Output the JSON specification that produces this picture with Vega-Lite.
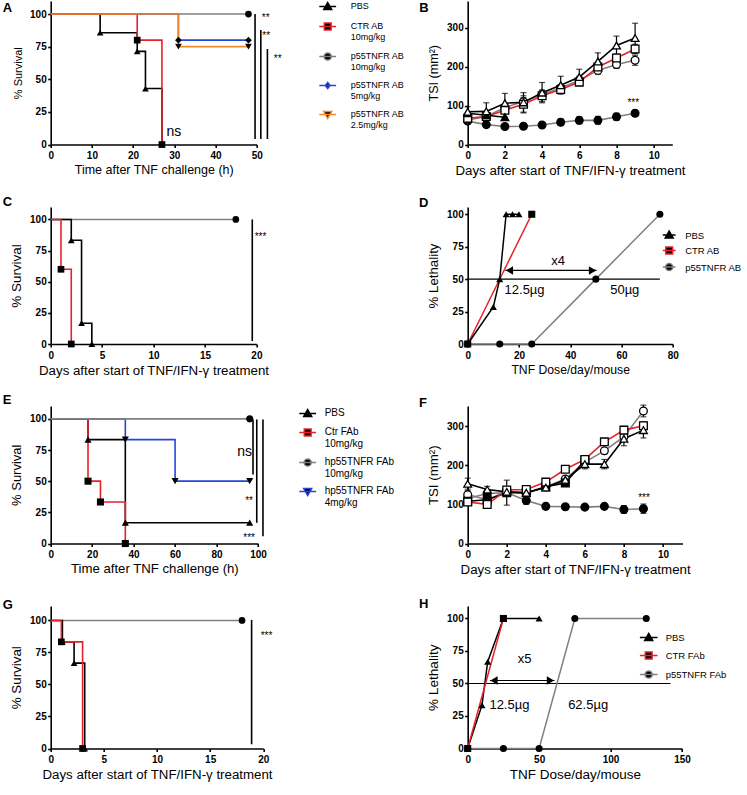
{
"$schema": "https://vega.github.io/schema/vega-lite/v6.json",
"padding": {"left": 1.7, "top": 1, "right": 2, "bottom": 2},
"config": {
 "view": {"stroke": null},
 "font": "Liberation Sans",
 "axis": {"grid": false, "domainColor": "#000", "domainWidth": 1.6, "tickColor": "#000", "tickWidth": 1.6, "tickSize": 3, "labelFont": "Liberation Sans", "labelFontSize": 10, "labelFontWeight": "bold", "labelColor": "#000", "labelFlush": false, "labelOverlap": false, "titleFont": "Liberation Sans", "titleFontSize": 12, "titleFontWeight": "normal", "titleColor": "#000"},
 "axisX": {"labelPadding": 3, "titlePadding": 3},
 "axisY": {"labelPadding": 1.5, "titlePadding": 6.5},
 "text": {"font": "Liberation Sans", "color": "#000"},
 "style": {"guide-label": {"lineHeight": 11.5}}
},
"columns": 2,
"spacing": {"row": 62, "column": 204},
"bounds": "flush",
"resolve": {"scale": {"color": "independent", "shape": "independent", "fill": "independent"}, "legend": {"color": "independent", "shape": "independent", "fill": "independent"}},
"datasets": {
 "kmA": [
  {"x":0,"y":100,"g":"p55TNFR AB 10mg/kg"},{"x":48,"y":100,"g":"p55TNFR AB 10mg/kg"},
  {"x":0,"y":100,"g":"p55TNFR AB 5mg/kg"},{"x":31,"y":80,"g":"p55TNFR AB 5mg/kg"},{"x":48,"y":80,"g":"p55TNFR AB 5mg/kg"},
  {"x":0,"y":100,"g":"PBS"},{"x":12,"y":85.7,"g":"PBS"},{"x":21,"y":71.4,"g":"PBS"},{"x":23,"y":42.9,"g":"PBS"},{"x":27,"y":0,"g":"PBS"},
  {"x":0,"y":100,"g":"CTR AB 10mg/kg"},{"x":21,"y":80,"g":"CTR AB 10mg/kg"},{"x":27,"y":0,"g":"CTR AB 10mg/kg"},
  {"x":0,"y":100,"g":"p55TNFR AB 2.5mg/kg"},{"x":31,"y":75,"g":"p55TNFR AB 2.5mg/kg"},{"x":48,"y":75,"g":"p55TNFR AB 2.5mg/kg"}
 ],
 "tsiB": [
  {"x":0,"y":60,"se":5,"g":"p55TNFR AB (TNF)"},{"x":1,"y":51,"se":4,"g":"p55TNFR AB (TNF)"},{"x":2,"y":46,"se":3,"g":"p55TNFR AB (TNF)"},{"x":3,"y":47,"se":3,"g":"p55TNFR AB (TNF)"},{"x":4,"y":50,"se":3,"g":"p55TNFR AB (TNF)"},{"x":5,"y":57,"se":8,"g":"p55TNFR AB (TNF)"},{"x":6,"y":62,"se":9,"g":"p55TNFR AB (TNF)"},{"x":7,"y":62,"se":10,"g":"p55TNFR AB (TNF)"},{"x":8,"y":71,"se":9,"g":"p55TNFR AB (TNF)"},{"x":9,"y":80,"se":8,"g":"p55TNFR AB (TNF)"},
  {"x":0,"y":63,"se":8,"g":"p55TNFR AB"},{"x":1,"y":72,"se":8,"g":"p55TNFR AB"},{"x":2,"y":95,"se":10,"g":"p55TNFR AB"},{"x":3,"y":110,"se":10,"g":"p55TNFR AB"},{"x":4,"y":128,"se":10,"g":"p55TNFR AB"},{"x":5,"y":145,"se":8,"g":"p55TNFR AB"},{"x":6,"y":165,"se":10,"g":"p55TNFR AB"},{"x":7,"y":190,"se":10,"g":"p55TNFR AB"},{"x":8,"y":205,"se":10,"g":"p55TNFR AB"},{"x":9,"y":216,"se":13,"g":"p55TNFR AB"},
  {"x":0,"y":67,"se":5,"g":"CTR AB"},{"x":1,"y":72,"se":6,"g":"CTR AB"},{"x":2,"y":88,"se":8,"g":"CTR AB"},{"x":3,"y":103,"se":22,"g":"CTR AB"},{"x":4,"y":125,"se":15,"g":"CTR AB"},{"x":5,"y":141,"se":8,"g":"CTR AB"},{"x":6,"y":160,"se":8,"g":"CTR AB"},{"x":7,"y":199,"se":12,"g":"CTR AB"},{"x":8,"y":222,"se":10,"g":"CTR AB"},{"x":9,"y":245,"se":12,"g":"CTR AB"},
  {"x":0,"y":80,"se":0,"g":"PBS (TNF)"},{"x":1,"y":75,"se":0,"g":"PBS (TNF)"},{"x":2,"y":70,"se":0,"g":"PBS (TNF)"},
  {"x":0,"y":84,"se":13,"g":"PBS"},{"x":1,"y":85,"se":22,"g":"PBS"},{"x":2,"y":106,"se":25,"g":"PBS"},{"x":3,"y":108,"se":25,"g":"PBS"},{"x":4,"y":133,"se":26,"g":"PBS"},{"x":5,"y":152,"se":23,"g":"PBS"},{"x":6,"y":173,"se":20,"g":"PBS"},{"x":7,"y":213,"se":22,"g":"PBS"},{"x":8,"y":254,"se":24,"g":"PBS"},{"x":9,"y":273,"se":38,"g":"PBS"}
 ],
 "kmC": [
  {"x":0,"y":100,"g":"p55TNFR AB"},{"x":18,"y":100,"g":"p55TNFR AB"},
  {"x":0,"y":100,"g":"PBS"},{"x":2,"y":83.3,"g":"PBS"},{"x":3,"y":16.7,"g":"PBS"},{"x":4,"y":0,"g":"PBS"},
  {"x":0,"y":100,"g":"CTR AB"},{"x":1,"y":60,"g":"CTR AB"},{"x":2,"y":0,"g":"CTR AB"}
 ],
 "doseD": [
  {"x":0,"y":0,"g":"p55TNFR AB"},{"x":12.5,"y":0,"g":"p55TNFR AB"},{"x":25,"y":0,"g":"p55TNFR AB"},{"x":50,"y":50,"g":"p55TNFR AB"},{"x":75,"y":100,"g":"p55TNFR AB"},
  {"x":0,"y":0,"g":"CTR AB"},{"x":25,"y":100,"g":"CTR AB"},
  {"x":0,"y":0,"g":"PBS"},{"x":10,"y":28.6,"g":"PBS"},{"x":12.5,"y":50,"g":"PBS"},{"x":15,"y":100,"g":"PBS"},{"x":17.5,"y":100,"g":"PBS"},{"x":20,"y":100,"g":"PBS"}
 ],
 "kmE": [
  {"x":0,"y":100,"g":"PBS"},{"x":18,"y":83.3,"g":"PBS"},{"x":36,"y":16.7,"g":"PBS"},{"x":96,"y":16.7,"g":"PBS"},
  {"x":0,"y":100,"g":"Ctr FAb 10mg/kg"},{"x":18,"y":50,"g":"Ctr FAb 10mg/kg"},{"x":24,"y":33.3,"g":"Ctr FAb 10mg/kg"},{"x":36,"y":0,"g":"Ctr FAb 10mg/kg"},
  {"x":0,"y":100,"g":"hp55TNFR FAb 4mg/kg"},{"x":36,"y":83.3,"g":"hp55TNFR FAb 4mg/kg"},{"x":60,"y":50,"g":"hp55TNFR FAb 4mg/kg"},{"x":96,"y":50,"g":"hp55TNFR FAb 4mg/kg"},
  {"x":0,"y":100,"g":"hp55TNFR FAb 10mg/kg"},{"x":96,"y":100,"g":"hp55TNFR FAb 10mg/kg"}
 ],
 "tsiF": [
  {"x":0,"y":115,"se":8,"g":"hp55TNFR FAb (TNF)"},{"x":1,"y":128,"se":10,"g":"hp55TNFR FAb (TNF)"},{"x":2,"y":130,"se":8,"g":"hp55TNFR FAb (TNF)"},{"x":3,"y":110,"se":10,"g":"hp55TNFR FAb (TNF)"},{"x":4,"y":95,"se":8,"g":"hp55TNFR FAb (TNF)"},{"x":5,"y":94,"se":5,"g":"hp55TNFR FAb (TNF)"},{"x":6,"y":93,"se":3,"g":"hp55TNFR FAb (TNF)"},{"x":7,"y":95,"se":3,"g":"hp55TNFR FAb (TNF)"},{"x":8,"y":87,"se":10,"g":"hp55TNFR FAb (TNF)"},{"x":9,"y":89,"se":12,"g":"hp55TNFR FAb (TNF)"},
  {"x":0,"y":125,"se":10,"g":"hp55TNFR FAb"},{"x":1,"y":112,"se":12,"g":"hp55TNFR FAb"},{"x":2,"y":133,"se":10,"g":"hp55TNFR FAb"},{"x":3,"y":128,"se":6,"g":"hp55TNFR FAb"},{"x":4,"y":145,"se":6,"g":"hp55TNFR FAb"},{"x":5,"y":165,"se":6,"g":"hp55TNFR FAb"},{"x":6,"y":208,"se":6,"g":"hp55TNFR FAb"},{"x":7,"y":237,"se":8,"g":"hp55TNFR FAb"},{"x":8,"y":273,"se":8,"g":"hp55TNFR FAb"},{"x":9,"y":339,"se":15,"g":"hp55TNFR FAb"},
  {"x":0,"y":108,"se":6,"g":"Ctr FAb (TNF)"},{"x":1,"y":112,"se":14,"g":"Ctr FAb (TNF)"},{"x":2,"y":130,"se":32,"g":"Ctr FAb (TNF)"},{"x":3,"y":130,"se":6,"g":"Ctr FAb (TNF)"},{"x":4,"y":145,"se":6,"g":"Ctr FAb (TNF)"},{"x":5,"y":155,"se":6,"g":"Ctr FAb (TNF)"},{"x":6,"y":213,"se":10,"g":"Ctr FAb (TNF)"},
  {"x":0,"y":106,"se":8,"g":"Ctr FAb"},{"x":1,"y":100,"se":6,"g":"Ctr FAb"},{"x":2,"y":137,"se":8,"g":"Ctr FAb"},{"x":3,"y":138,"se":5,"g":"Ctr FAb"},{"x":4,"y":157,"se":5,"g":"Ctr FAb"},{"x":5,"y":190,"se":5,"g":"Ctr FAb"},{"x":6,"y":215,"se":6,"g":"Ctr FAb"},{"x":7,"y":260,"se":8,"g":"Ctr FAb"},{"x":8,"y":290,"se":6,"g":"Ctr FAb"},{"x":9,"y":301,"se":10,"g":"Ctr FAb"},
  {"x":0,"y":153,"se":14,"g":"PBS"},{"x":1,"y":138,"se":8,"g":"PBS"},{"x":2,"y":132,"se":10,"g":"PBS"},{"x":3,"y":130,"se":8,"g":"PBS"},{"x":4,"y":143,"se":8,"g":"PBS"},{"x":5,"y":163,"se":8,"g":"PBS"},{"x":6,"y":203,"se":12,"g":"PBS"},{"x":7,"y":203,"se":12,"g":"PBS"},{"x":8,"y":268,"se":18,"g":"PBS"},{"x":9,"y":290,"se":20,"g":"PBS"}
 ],
 "kmG": [
  {"x":0,"y":100,"g":"p55TNFR FAb"},{"x":18,"y":100,"g":"p55TNFR FAb"},
  {"x":0,"y":100,"g":"PBS"},{"x":1.1,"y":83.3,"g":"PBS"},{"x":2.2,"y":66.7,"g":"PBS"},{"x":3.2,"y":0,"g":"PBS"},
  {"x":0,"y":100,"g":"CTR FAb"},{"x":1,"y":83.3,"g":"CTR FAb"},{"x":3,"y":0,"g":"CTR FAb"}
 ],
 "doseH": [
  {"x":0,"y":0,"g":"p55TNFR FAb"},{"x":25,"y":0,"g":"p55TNFR FAb"},{"x":50,"y":0,"g":"p55TNFR FAb"},{"x":75,"y":100,"g":"p55TNFR FAb"},{"x":125,"y":100,"g":"p55TNFR FAb"},
  {"x":0,"y":0,"g":"PBS"},{"x":10,"y":33.3,"g":"PBS"},{"x":14,"y":66.7,"g":"PBS"},{"x":25,"y":100,"g":"PBS"},{"x":50,"y":100,"g":"PBS"},
  {"x":0,"y":0,"g":"CTR FAb"},{"x":25,"y":100,"g":"CTR FAb"}
 ]
},
"concat": [
 {
  "width": 206, "height": 143.5,
  "encoding": {
   "x": {"field": "x", "type": "quantitative", "scale": {"domain": [0, 50], "nice": false}, "axis": {"values": [0, 10, 20, 30, 40, 50], "titleFontSize": 12.5}, "title": "Time after TNF challenge (h)"},
   "y": {"field": "y", "type": "quantitative", "scale": {"domain": [0, 110], "nice": false}, "axis": {"values": [0, 25, 50, 75, 100], "titleFontSize": 11}, "title": "% Survival"}
  },
  "layer": [
   {"data": {"name": "kmA"}, "mark": {"type": "line", "interpolate": "step-after", "strokeWidth": 1.6},
    "encoding": {"color": {"field": "g", "type": "nominal",
     "scale": {"domain": ["PBS", "CTR AB 10mg/kg", "p55TNFR AB 10mg/kg", "p55TNFR AB 5mg/kg", "p55TNFR AB 2.5mg/kg"], "range": ["#000000", "#e8202a", "#808080", "#2646d9", "#f08a2c"]},
     "legend": {"orient": "none", "legendX": 272, "legendY": 0.5, "title": null, "symbolSize": 64, "symbolStrokeWidth": 1.5, "labelFont": "Liberation Sans", "labelFontSize": 9, "labelColor": "#000", "labelOffset": 18, "labelLimit": 200, "labelBaseline": "top", "rowPadding": 7,
      "labelExpr": "indexof(datum.label, 'mg/kg') > 0 ? [slice(datum.label, 0, lastindexof(datum.label, ' ')), slice(datum.label, lastindexof(datum.label, ' ') + 1)] : datum.label",
      "encode": {
       "symbols": {"update": {"shape": {"signal": "['M-2.1,0L2.1,0M0,-1L1,0.75L-1,0.75Z','M-2.1,0L2.1,0M-0.85,-0.85L0.85,-0.85L0.85,0.85L-0.85,0.85Z','M-2.1,0L2.1,0M0.9,0A0.9,0.9,0,1,1,-0.9,0A0.9,0.9,0,1,1,0.9,0Z','M-2.1,0L2.1,0M0,-0.75L0.6,0L0,0.75L-0.6,0Z','M-2.1,0L2.1,0M-1,-0.75L1,-0.75L0,1Z'][indexof(['PBS','CTR AB 10mg/kg','p55TNFR AB 10mg/kg','p55TNFR AB 5mg/kg','p55TNFR AB 2.5mg/kg'], datum.value)]"}, "fill": {"value": "#000"}}},
       "labels": {"update": {"dy": {"value": -4.5}}}
      }}}}},
   {"data": {"name": "kmA"}, "transform": [{"filter": "datum.x > 0"}], "mark": {"type": "point", "filled": true, "color": "#000", "size": 45, "opacity": 1},
    "encoding": {"shape": {"field": "g", "type": "nominal", "scale": {"domain": ["p55TNFR AB 2.5mg/kg", "p55TNFR AB 5mg/kg", "p55TNFR AB 10mg/kg", "CTR AB 10mg/kg", "PBS"], "range": ["triangle-down", "diamond", "circle", "square", "triangle-up"]}, "legend": null}}},
   {"data": {"values": [{"x": 49.6, "y": 100, "y2": 4.2}, {"x": 51, "y": 87.8, "y2": 4.2}, {"x": 52.6, "y": 73.2, "y2": 4.2}]}, "mark": {"type": "rule", "color": "#000", "strokeWidth": 1.6}, "encoding": {"y2": {"field": "y2"}}},
   {"data": {"values": [{"x": 52.2, "y": 94.9, "label": "**"}, {"x": 52.3, "y": 81.1, "label": "**"}, {"x": 55.1, "y": 63.1, "label": "**"}]}, "mark": {"type": "text", "fontSize": 10, "baseline": "alphabetic"}, "encoding": {"text": {"field": "label"}}},
   {"data": {"values": [{"x": 29.9, "y": 6.3, "label": "ns"}]}, "mark": {"type": "text", "fontSize": 14, "baseline": "alphabetic"}, "encoding": {"text": {"field": "label"}}},
   {"data": {"values": [{"x": -11.65, "y": 101.6, "label": "A"}]}, "mark": {"type": "text", "fontSize": 13, "fontWeight": "bold", "align": "left", "baseline": "alphabetic"}, "encoding": {"text": {"field": "label"}}}
  ]
 },
 {
  "width": 204.6, "height": 143.5,
  "encoding": {
   "x": {"field": "x", "type": "quantitative", "scale": {"domain": [0, 11], "nice": false}, "axis": {"values": [0, 2, 4, 6, 8, 10], "titleFontSize": 13.3}, "title": "Days after start of TNF/IFN-γ treatment"},
   "y": {"field": "y", "type": "quantitative", "scale": {"domain": [0, 368], "nice": false}, "axis": {"values": [0, 100, 200, 300], "titleFontSize": 12.6}, "title": "TSI (mm²)"}
  },
  "layer": [
   {"data": {"name": "tsiB"}, "mark": {"type": "errorbar", "ticks": true, "size": 6, "thickness": 1.2, "color": "#000"}, "encoding": {"yError": {"field": "se"}}},
   {"data": {"name": "tsiB"}, "mark": {"type": "line", "strokeWidth": 1.6},
    "encoding": {"color": {"field": "g", "type": "nominal", "scale": {"domain": ["p55TNFR AB (TNF)", "p55TNFR AB", "CTR AB", "PBS (TNF)", "PBS"], "range": ["#808080", "#808080", "#e8202a", "#000000", "#000000"]}, "legend": null}}},
   {"data": {"name": "tsiB"}, "mark": {"type": "point", "size": 60, "strokeWidth": 1.3, "opacity": 1},
    "encoding": {
     "shape": {"field": "g", "type": "nominal", "scale": {"domain": ["p55TNFR AB (TNF)", "p55TNFR AB", "CTR AB", "PBS (TNF)", "PBS"], "range": ["circle", "circle", "square", "triangle-up", "triangle-up"]}, "legend": null},
     "fill": {"field": "g", "type": "nominal", "scale": {"domain": ["p55TNFR AB (TNF)", "p55TNFR AB", "CTR AB", "PBS (TNF)", "PBS"], "range": ["#000000", "#ffffff", "#ffffff", "#000000", "#ffffff"]}, "legend": null},
     "stroke": {"value": "#000"}}},
   {"data": {"values": [{"x": 8.9, "y": 97.7, "label": "***"}]}, "mark": {"type": "text", "fontSize": 10, "baseline": "alphabetic"}, "encoding": {"text": {"field": "label"}}},
   {"data": {"values": [{"x": -2.61, "y": 339.7, "label": "B"}]}, "mark": {"type": "text", "fontSize": 13, "fontWeight": "bold", "align": "left", "baseline": "alphabetic"}, "encoding": {"text": {"field": "label"}}}
  ]
 },
 {
  "width": 205.7, "height": 137,
  "encoding": {
   "x": {"field": "x", "type": "quantitative", "scale": {"domain": [0, 20], "nice": false}, "axis": {"values": [0, 5, 10, 15, 20], "titleFontSize": 13.3}, "title": "Days after start of TNF/IFN-γ treatment"},
   "y": {"field": "y", "type": "quantitative", "scale": {"domain": [0, 110], "nice": false}, "axis": {"values": [0, 25, 50, 75, 100], "titleFontSize": 13.5}, "title": "% Survival"}
  },
  "layer": [
   {"data": {"name": "kmC"}, "mark": {"type": "line", "interpolate": "step-after", "strokeWidth": 1.6},
    "encoding": {"color": {"field": "g", "type": "nominal", "scale": {"domain": ["PBS", "CTR AB", "p55TNFR AB"], "range": ["#000000", "#e8202a", "#808080"]}, "legend": null}}},
   {"data": {"name": "kmC"}, "transform": [{"filter": "datum.x > 0"}], "mark": {"type": "point", "filled": true, "color": "#000", "size": 45, "opacity": 1},
    "encoding": {"shape": {"field": "g", "type": "nominal", "scale": {"domain": ["PBS", "CTR AB", "p55TNFR AB"], "range": ["triangle-up", "square", "circle"]}, "legend": null}}},
   {"data": {"values": [{"x": 19.6, "y": 100, "y2": 2.4}]}, "mark": {"type": "rule", "color": "#000", "strokeWidth": 1.6}, "encoding": {"y2": {"field": "y2"}}},
   {"data": {"values": [{"x": 20.4, "y": 83.3, "label": "***"}]}, "mark": {"type": "text", "fontSize": 10, "baseline": "alphabetic"}, "encoding": {"text": {"field": "label"}}},
   {"data": {"values": [{"x": -4.67, "y": 110.6, "label": "C"}]}, "mark": {"type": "text", "fontSize": 13, "fontWeight": "bold", "align": "left", "baseline": "alphabetic"}, "encoding": {"text": {"field": "label"}}}
  ]
 },
 {
  "width": 205, "height": 137,
  "encoding": {
   "x": {"field": "x", "type": "quantitative", "scale": {"domain": [0, 80], "nice": false}, "axis": {"values": [0, 20, 40, 60, 80], "titleFontSize": 12.2}, "title": "TNF Dose/day/mouse"},
   "y": {"field": "y", "type": "quantitative", "scale": {"domain": [0, 105.6], "nice": false}, "axis": {"values": [0, 25, 50, 75, 100], "titleFontSize": 13.3}, "title": "% Lethality"}
  },
  "layer": [
   {"data": {"values": [{"x": 0, "x2": 75, "y": 50}, {"x": 14.7, "x2": 50.3, "y": 56.7}]}, "mark": {"type": "rule", "color": "#000", "strokeWidth": 1.2}, "encoding": {"x2": {"field": "x2"}}},
   {"data": {"name": "doseD"}, "mark": {"type": "line", "strokeWidth": 1.5},
    "encoding": {"color": {"field": "g", "type": "nominal",
     "scale": {"domain": ["PBS", "CTR AB", "p55TNFR AB"], "range": ["#000000", "#e8202a", "#808080"]},
     "legend": {"orient": "none", "legendX": 196.5, "legendY": 23, "title": null, "symbolSize": 64, "symbolStrokeWidth": 1.5, "labelFont": "Liberation Sans", "labelFontSize": 9.5, "labelColor": "#000", "labelOffset": 11, "labelLimit": 200, "labelBaseline": "top", "rowPadding": 2.5,
      "encode": {
       "symbols": {"update": {"shape": {"signal": "['M-1.6,0L1.6,0M0,-1L1,0.75L-1,0.75Z','M-1.6,0L1.6,0M-0.85,-0.85L0.85,-0.85L0.85,0.85L-0.85,0.85Z','M-1.6,0L1.6,0M0.9,0A0.9,0.9,0,1,1,-0.9,0A0.9,0.9,0,1,1,0.9,0Z'][indexof(['PBS','CTR AB','p55TNFR AB'], datum.value)]"}, "fill": {"value": "#000"}}},
       "labels": {"update": {"dy": {"value": -4.5}}}
      }}}}},
   {"data": {"name": "doseD"}, "mark": {"type": "point", "filled": true, "color": "#000", "size": 50, "opacity": 1},
    "encoding": {"shape": {"field": "g", "type": "nominal", "scale": {"domain": ["p55TNFR AB", "CTR AB", "PBS"], "range": ["circle", "square", "triangle-up"]}, "legend": null}}},
   {"data": {"values": [{"x": 16.3, "y": 56.7}]}, "mark": {"type": "point", "shape": "triangle-left", "filled": true, "color": "#000", "size": 70, "opacity": 1}, "encoding": {}},
   {"data": {"values": [{"x": 48.7, "y": 56.7}]}, "mark": {"type": "point", "shape": "triangle-right", "filled": true, "color": "#000", "size": 70, "opacity": 1}, "encoding": {}},
   {"data": {"values": [{"x": 35.3, "y": 60.7, "label": "x4"}, {"x": 22.2, "y": 38.2, "label": "12.5µg"}, {"x": 61.3, "y": 38.2, "label": "50µg"}]}, "mark": {"type": "text", "fontSize": 13, "baseline": "alphabetic"}, "encoding": {"text": {"field": "label"}}},
   {"data": {"values": [{"x": -18.97, "y": 105.8, "label": "D"}]}, "mark": {"type": "text", "fontSize": 13, "fontWeight": "bold", "align": "left", "baseline": "alphabetic"}, "encoding": {"text": {"field": "label"}}}
  ]
 },
 {
  "width": 207.3, "height": 137.5,
  "encoding": {
   "x": {"field": "x", "type": "quantitative", "scale": {"domain": [0, 100], "nice": false}, "axis": {"values": [0, 20, 40, 60, 80, 100], "titleFontSize": 13.2}, "title": "Time after TNF challenge (h)"},
   "y": {"field": "y", "type": "quantitative", "scale": {"domain": [0, 110.3], "nice": false}, "axis": {"values": [0, 25, 50, 75, 100], "titleFontSize": 13}, "title": "% Survival"}
  },
  "layer": [
   {"data": {"name": "kmE"}, "mark": {"type": "line", "interpolate": "step-after", "strokeWidth": 1.6},
    "encoding": {"color": {"field": "g", "type": "nominal",
     "scale": {"domain": ["PBS", "Ctr FAb 10mg/kg", "hp55TNFR FAb 10mg/kg", "hp55TNFR FAb 4mg/kg"], "range": ["#000000", "#e8202a", "#808080", "#2646d9"]},
     "legend": {"orient": "none", "legendX": 252, "legendY": 2.5, "title": null, "symbolSize": 64, "symbolStrokeWidth": 1.5, "labelFont": "Liberation Sans", "labelFontSize": 10, "labelColor": "#000", "labelOffset": 12, "labelLimit": 200, "labelBaseline": "top", "rowPadding": 6,
      "labelExpr": "indexof(datum.label, 'mg/kg') > 0 ? [slice(datum.label, 0, lastindexof(datum.label, ' ')), slice(datum.label, lastindexof(datum.label, ' ') + 1)] : datum.label",
      "encode": {
       "symbols": {"update": {"shape": {"signal": "['M-2.1,0L2.1,0M0,-1L1,0.75L-1,0.75Z','M-2.1,0L2.1,0M-0.85,-0.85L0.85,-0.85L0.85,0.85L-0.85,0.85Z','M-2.1,0L2.1,0M0.9,0A0.9,0.9,0,1,1,-0.9,0A0.9,0.9,0,1,1,0.9,0Z','M-2.1,0L2.1,0M-1,-0.75L1,-0.75L0,1Z'][indexof(['PBS','Ctr FAb 10mg/kg','hp55TNFR FAb 10mg/kg','hp55TNFR FAb 4mg/kg'], datum.value)]"}, "fill": {"value": "#000"}}},
       "labels": {"update": {"dy": {"value": -5}}}
      }}}}},
   {"data": {"name": "kmE"}, "transform": [{"filter": "datum.x > 0"}], "mark": {"type": "point", "filled": true, "color": "#000", "size": 50, "opacity": 1},
    "encoding": {"shape": {"field": "g", "type": "nominal", "scale": {"domain": ["hp55TNFR FAb 4mg/kg", "hp55TNFR FAb 10mg/kg", "Ctr FAb 10mg/kg", "PBS"], "range": ["triangle-down", "circle", "square", "triangle-up"]}, "legend": null}}},
   {"data": {"values": [{"x": 97.6, "y": 99.5, "y2": 55.3}, {"x": 99.4, "y": 99.5, "y2": 16.6}, {"x": 102.4, "y": 99.5, "y2": 5.9}]}, "mark": {"type": "rule", "color": "#000", "strokeWidth": 1.6}, "encoding": {"y2": {"field": "y2"}}},
   {"data": {"values": [{"x": 95.7, "y": 31.3, "label": "**"}, {"x": 95.7, "y": 2.4, "label": "***"}]}, "mark": {"type": "text", "fontSize": 10, "baseline": "alphabetic"}, "encoding": {"text": {"field": "label"}}},
   {"data": {"values": [{"x": 93.6, "y": 70, "label": "ns"}]}, "mark": {"type": "text", "fontSize": 14, "baseline": "alphabetic"}, "encoding": {"text": {"field": "label"}}},
   {"data": {"values": [{"x": -23.15, "y": 112.3, "label": "E"}]}, "mark": {"type": "text", "fontSize": 13, "fontWeight": "bold", "align": "left", "baseline": "alphabetic"}, "encoding": {"text": {"field": "label"}}}
  ]
 },
 {
  "width": 214.8, "height": 137.5,
  "encoding": {
   "x": {"field": "x", "type": "quantitative", "scale": {"domain": [0, 11], "nice": false}, "axis": {"values": [0, 2, 4, 6, 8, 10], "titleFontSize": 13.3}, "title": "Days after start of TNF/IFN-γ treatment"},
   "y": {"field": "y", "type": "quantitative", "scale": {"domain": [0, 351.7], "nice": false}, "axis": {"values": [0, 100, 200, 300], "titleFontSize": 13.3}, "title": "TSI (mm²)"}
  },
  "layer": [
   {"data": {"name": "tsiF"}, "mark": {"type": "errorbar", "ticks": true, "size": 6, "thickness": 1.2, "color": "#000"}, "encoding": {"yError": {"field": "se"}}},
   {"data": {"name": "tsiF"}, "mark": {"type": "line", "strokeWidth": 1.6},
    "encoding": {"color": {"field": "g", "type": "nominal", "scale": {"domain": ["hp55TNFR FAb (TNF)", "hp55TNFR FAb", "Ctr FAb (TNF)", "Ctr FAb", "PBS"], "range": ["#808080", "#808080", "#000000", "#e8202a", "#000000"]}, "legend": null}}},
   {"data": {"name": "tsiF"}, "mark": {"type": "point", "size": 60, "strokeWidth": 1.3, "opacity": 1},
    "encoding": {
     "shape": {"field": "g", "type": "nominal", "scale": {"domain": ["hp55TNFR FAb (TNF)", "hp55TNFR FAb", "Ctr FAb (TNF)", "Ctr FAb", "PBS"], "range": ["circle", "circle", "square", "square", "triangle-up"]}, "legend": null},
     "fill": {"field": "g", "type": "nominal", "scale": {"domain": ["hp55TNFR FAb (TNF)", "hp55TNFR FAb", "Ctr FAb (TNF)", "Ctr FAb", "PBS"], "range": ["#000000", "#ffffff", "#000000", "#ffffff", "#ffffff"]}, "legend": null},
     "stroke": {"value": "#000"}}},
   {"data": {"values": [{"x": 9.03, "y": 108, "label": "***"}]}, "mark": {"type": "text", "fontSize": 10, "baseline": "alphabetic"}, "encoding": {"text": {"field": "label"}}},
   {"data": {"values": [{"x": -2.49, "y": 349.6, "label": "F"}]}, "mark": {"type": "text", "fontSize": 13, "fontWeight": "bold", "align": "left", "baseline": "alphabetic"}, "encoding": {"text": {"field": "label"}}}
  ]
 },
 {
  "width": 212.6, "height": 142.5,
  "encoding": {
   "x": {"field": "x", "type": "quantitative", "scale": {"domain": [0, 20], "nice": false}, "axis": {"values": [0, 5, 10, 15, 20], "titleFontSize": 13.3}, "title": "Days after start of TNF/IFN-γ treatment"},
   "y": {"field": "y", "type": "quantitative", "scale": {"domain": [0, 111.3], "nice": false}, "axis": {"values": [0, 25, 50, 75, 100], "titleFontSize": 13.4}, "title": "% Survival"}
  },
  "layer": [
   {"data": {"name": "kmG"}, "mark": {"type": "line", "interpolate": "step-after", "strokeWidth": 1.6},
    "encoding": {"color": {"field": "g", "type": "nominal", "scale": {"domain": ["PBS", "CTR FAb", "p55TNFR FAb"], "range": ["#000000", "#e8202a", "#808080"]}, "legend": null}}},
   {"data": {"name": "kmG"}, "transform": [{"filter": "datum.x > 0"}], "mark": {"type": "point", "filled": true, "color": "#000", "size": 45, "opacity": 1},
    "encoding": {"shape": {"field": "g", "type": "nominal", "scale": {"domain": ["PBS", "CTR FAb", "p55TNFR FAb"], "range": ["triangle-up", "square", "circle"]}, "legend": null}}},
   {"data": {"values": [{"x": 18.9, "y": 100.4, "y2": 3.3}]}, "mark": {"type": "rule", "color": "#000", "strokeWidth": 1.6}, "encoding": {"y2": {"field": "y2"}}},
   {"data": {"values": [{"x": 20.3, "y": 85.5, "label": "***"}]}, "mark": {"type": "text", "fontSize": 10, "baseline": "alphabetic"}, "encoding": {"text": {"field": "label"}}},
   {"data": {"values": [{"x": -4.52, "y": 109, "label": "G"}]}, "mark": {"type": "text", "fontSize": 13, "fontWeight": "bold", "align": "left", "baseline": "alphabetic"}, "encoding": {"text": {"field": "label"}}}
  ]
 },
 {
  "width": 214.3, "height": 142.5,
  "encoding": {
   "x": {"field": "x", "type": "quantitative", "scale": {"domain": [0, 150], "nice": false}, "axis": {"values": [0, 50, 100, 150], "titleFontSize": 13.5}, "title": "TNF Dose/day/mouse"},
   "y": {"field": "y", "type": "quantitative", "scale": {"domain": [0, 109.6], "nice": false}, "axis": {"values": [0, 25, 50, 75, 100], "titleFontSize": 13.6}, "title": "% Lethality"}
  },
  "layer": [
   {"data": {"values": [{"x": 0, "x2": 142, "y": 50}, {"x": 15.6, "x2": 60.7, "y": 52.3}]}, "mark": {"type": "rule", "color": "#000", "strokeWidth": 1.2}, "encoding": {"x2": {"field": "x2"}}},
   {"data": {"name": "doseH"}, "mark": {"type": "line", "strokeWidth": 1.5},
    "encoding": {"color": {"field": "g", "type": "nominal",
     "scale": {"domain": ["PBS", "CTR FAb", "p55TNFR FAb"], "range": ["#000000", "#e8202a", "#808080"]},
     "legend": {"orient": "none", "legendX": 176, "legendY": 26.5, "title": null, "symbolSize": 64, "symbolStrokeWidth": 1.5, "labelFont": "Liberation Sans", "labelFontSize": 9.5, "labelColor": "#000", "labelOffset": 12, "labelLimit": 200, "labelBaseline": "top", "rowPadding": 5,
      "encode": {
       "symbols": {"update": {"shape": {"signal": "['M-2.2,0L2.2,0M0,-1L1,0.75L-1,0.75Z','M-2.2,0L2.2,0M-0.85,-0.85L0.85,-0.85L0.85,0.85L-0.85,0.85Z','M-2.2,0L2.2,0M0.9,0A0.9,0.9,0,1,1,-0.9,0A0.9,0.9,0,1,1,0.9,0Z'][indexof(['PBS','CTR FAb','p55TNFR FAb'], datum.value)]"}, "fill": {"value": "#000"}}},
       "labels": {"update": {"dy": {"value": -4.5}}}
      }}}}},
   {"data": {"name": "doseH"}, "mark": {"type": "point", "filled": true, "color": "#000", "size": 50, "opacity": 1},
    "encoding": {"shape": {"field": "g", "type": "nominal", "scale": {"domain": ["p55TNFR FAb", "CTR FAb", "PBS"], "range": ["circle", "square", "triangle-up"]}, "legend": null}}},
   {"data": {"values": [{"x": 18.4, "y": 52.3}]}, "mark": {"type": "point", "shape": "triangle-left", "filled": true, "color": "#000", "size": 70, "opacity": 1}, "encoding": {}},
   {"data": {"values": [{"x": 57.9, "y": 52.3}]}, "mark": {"type": "point", "shape": "triangle-right", "filled": true, "color": "#000", "size": 70, "opacity": 1}, "encoding": {}},
   {"data": {"values": [{"x": 39.9, "y": 65.9, "label": "x5"}, {"x": 29.2, "y": 30, "label": "12.5µg"}, {"x": 84.3, "y": 30, "label": "62.5µg"}]}, "mark": {"type": "text", "fontSize": 13, "baseline": "alphabetic"}, "encoding": {"text": {"field": "label"}}},
   {"data": {"values": [{"x": -34, "y": 107.8, "label": "H"}]}, "mark": {"type": "text", "fontSize": 13, "fontWeight": "bold", "align": "left", "baseline": "alphabetic"}, "encoding": {"text": {"field": "label"}}}
  ]
 }
]
}
